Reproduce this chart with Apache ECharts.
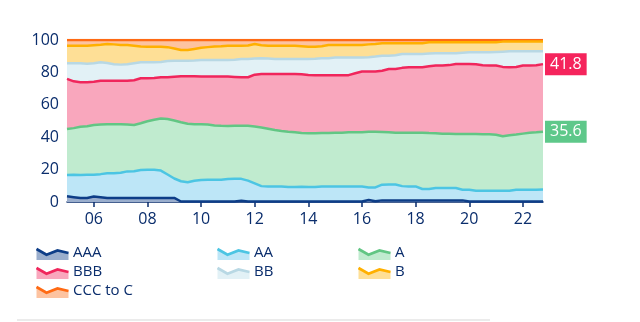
<!DOCTYPE html>
<html>
<head>
<meta charset="utf-8">
<script src="https://cdn.jsdelivr.net/npm/echarts@6/dist/echarts.min.js"></script>
<style>
html,body{margin:0;padding:0;background:#fff;}
#chart{width:640px;height:322px;}
</style>
</head>
<body>
<div id="chart"></div>
<script>
// Quarterly observation dates
const categories = [
  '2005-01','2005-04','2005-07','2005-10','2006-01','2006-04','2006-07','2006-10',
  '2007-01','2007-04','2007-07','2007-10','2008-01','2008-04','2008-07','2008-10',
  '2009-01','2009-04','2009-07','2009-10','2010-01','2010-04','2010-07','2010-10',
  '2011-01','2011-04','2011-07','2011-10','2012-01','2012-04','2012-07','2012-10',
  '2013-01','2013-04','2013-07','2013-10','2014-01','2014-04','2014-07','2014-10',
  '2015-01','2015-04','2015-07','2015-10','2016-01','2016-04','2016-07','2016-10',
  '2017-01','2017-04','2017-07','2017-10','2018-01','2018-04','2018-07','2018-10',
  '2019-01','2019-04','2019-07','2019-10','2020-01','2020-04','2020-07','2020-10',
  '2021-01','2021-04','2021-07','2021-10','2022-01','2022-04','2022-07','2022-10'
];
const tickLabels = ['06','08','10','12','14','16','18','20','22'];

const seriesNames = ['AAA','AA','A','BBB','BB','B','CCC to C'];

const aaa = [3.5,3.0,2.5,2.5, 3.4,3.0,2.5,2.5, 2.5,2.5,2.5,2.5, 2.5,2.5,2.5,2.5,
  2.5,0.3,0.3,0.3, 0.3,0.3,0.3,0.3, 0.3,0.3,0.7,0.3, 0.3,0.3,0.3,0.3,
  0.3,0.3,0.3,0.3, 0.3,0.3,0.3,0.3, 0.3,0.3,0.3,0.3, 0.3,1.2,0.4,1.0,
  1.0,1.0,1.0,1.0, 1.0,1.0,1.0,1.0, 1.0,1.0,1.0,1.0, 0.3,0.3,0.3,0.3,
  0.3,0.3,0.3,0.3, 0.3,0.3,0.3,0.3];
const aa = [13.1,13.8,14.2,14.3, 13.4,14.2,15.3,15.3, 15.5,16.4,16.5,17.3, 17.4,17.4,16.9,14.5,
  12.0,12.5,11.9,12.8, 13.3,13.4,13.5,13.4, 13.9,14.1,13.6,12.9, 11.2,9.5,9.3,9.3,
  9.2,8.9,9.0,9.1, 9.0,8.9,9.3,9.3, 9.3,9.3,9.3,9.3, 9.2,7.8,8.6,9.7,
  9.8,9.8,8.8,8.6, 8.6,7.0,7.0,7.6, 7.6,7.6,7.6,6.6, 7.3,6.7,6.7,6.7,
  6.7,6.7,6.7,7.3, 7.3,7.3,7.3,7.4];
const a = [28.4,28.8,29.8,30.0, 30.7,30.6,30.2,30.2, 30.0,28.9,28.5,28.8, 29.9,30.9,32.1,34.2,
  35.8,36.4,36.1,34.9, 34.4,34.1,33.4,33.3, 32.7,32.6,32.7,33.8, 35.1,36.2,35.6,34.8,
  34.3,34.1,33.7,33.2, 33.1,33.3,33.0,33.0, 33.1,33.1,33.4,33.5, 33.6,34.3,34.3,32.5,
  32.3,32.0,33.0,33.2, 33.2,34.8,34.6,33.9, 33.6,33.5,33.4,34.4, 34.3,34.9,34.8,34.8,
  34.5,33.6,34.2,34.0, 34.6,35.2,35.4,35.6];
const bbb = [31.0,28.9,27.4,27.1, 26.7,27.1,26.9,26.9, 26.9,27.1,27.7,27.8, 26.6,25.7,25.5,25.8,
  27.0,28.4,29.3,29.6, 29.4,29.6,30.2,30.4, 30.5,30.2,30.0,30.0, 32.0,33.0,33.8,34.6,
  35.2,35.7,36.0,36.2, 36.0,35.7,35.6,35.6, 35.5,35.5,35.3,36.4, 37.4,37.2,37.2,37.8,
  39.0,39.3,40.0,40.4, 40.4,40.4,41.2,41.7, 42.0,42.4,43.2,43.2, 43.3,43.1,42.6,42.4,
  42.7,42.8,42.0,41.7, 42.0,41.4,41.4,41.8];
const bb = [9.6,11.1,11.7,11.4, 11.4,11.3,10.9,10.1, 9.9,10.1,10.4,9.8, 9.8,9.7,9.4,10.0,
  9.9,9.6,9.6,9.7, 10.2,10.2,10.2,10.2, 10.2,10.6,11.2,11.2, 10.0,9.8,9.6,9.2,
  9.2,9.2,9.2,9.5, 9.9,10.3,10.6,10.6, 11.0,11.0,10.9,9.7, 8.7,8.9,9.3,9.3,
  8.2,8.5,8.6,8.2, 8.2,8.2,7.8,7.6, 7.6,7.3,6.6,7.0, 7.2,7.4,8.0,8.2,
  8.4,9.4,9.8,9.7, 8.8,8.8,8.6,7.9];
const b = [10.9,10.9,10.9,11.2, 11.2,10.9,11.7,12.3, 12.1,11.9,10.9,9.8, 9.6,9.6,9.4,8.6,
  7.6,6.6,6.6,7.2, 7.6,8.0,8.4,8.6, 8.9,8.7,8.3,8.4, 8.9,8.0,7.9,8.3,
  8.3,8.3,8.3,7.9, 7.6,7.4,7.4,8.1, 7.7,7.7,7.7,7.7, 7.7,7.9,7.8,7.7,
  7.7,7.4,6.6,6.6, 6.6,6.6,7.0,6.8, 6.8,6.8,6.8,6.4, 6.2,6.2,6.2,6.2,
  6.0,6.2,6.0,6.0, 6.0,6.0,6.0,6.0];
const ccc = [3.5,3.5,3.5,3.5, 3.2,2.9,2.5,2.7, 3.1,3.1,3.5,4.0, 4.2,4.2,4.2,4.4,
  5.2,6.2,6.2,5.5, 4.8,4.4,4.0,3.8, 3.5,3.5,3.5,3.4, 2.5,3.2,3.5,3.5,
  3.5,3.5,3.5,3.8, 4.1,4.1,3.8,3.1, 3.1,3.1,3.1,3.1, 3.1,2.7,2.4,2.0,
  2.0,2.0,2.0,2.0, 2.0,2.0,1.4,1.4, 1.4,1.4,1.4,1.4, 1.4,1.4,1.4,1.4,
  1.4,1.0,1.0,1.0, 1.0,1.0,1.0,1.0];

const seriesData = [aaa, aa, a, bbb, bb, b, ccc];
const lineColors = ['#0d3d87','#4cc5e3','#62c684','#f0265c','#b8d8e4','#ffb000','#ff6a13'];
const areaColors = ['#9aaecd','#bde6f7','#c0ebcf','#f9a7bd','#e2f1f6','#fedf96','#fdc3a0'];
const labelColors = { 'BBB': '#f5245c', 'A': '#5ec88a' };

const navy = '#0a2d6c';
const font = 'Open Sans';

const isTick = (idx, val) => val.endsWith('-01') && tickLabels.includes(val.slice(2, 4));

const series = seriesNames.map((name, i) => ({
  name: name,
  type: 'line',
  stack: 'total',
  data: seriesData[i],
  showSymbol: false,
  symbol: 'none',
  z: 20 - i,
  lineStyle: { color: lineColors[i], width: 2.5 },
  itemStyle: { color: lineColors[i] },
  areaStyle: { color: areaColors[i], opacity: 1 },
  emphasis: { disabled: true },
  endLabel: labelColors[name] ? {
    show: true,
    formatter: p => Number(p.value).toFixed(1),
    color: '#fff',
    backgroundColor: labelColors[name],
    padding: [3, 5, 3, 5],
    fontSize: 16,
    lineHeight: 16,
    fontFamily: font,
    distance: 2
  } : { show: false }
}));

// legend layout: three columns
const legendCols = [
  { left: 36, items: ['AAA', 'BBB', 'CCC to C'] },
  { left: 217, items: ['AA', 'BB'] },
  { left: 358, items: ['A', 'B'] }
];
const legendTop = 245, rowPitch = 19;

const legends = legendCols.map(col => ({
  left: col.left,
  top: legendTop,
  padding: 0,
  orient: 'vertical',
  itemWidth: 32,
  itemHeight: 16,
  itemGap: 3,
  icon: 'rect',
  selectedMode: false,
  itemStyle: { color: 'rgba(0,0,0,0)', opacity: 0, borderWidth: 0 },
  lineStyle: { opacity: 0 },
  textStyle: { color: navy, fontSize: 15, lineHeight: 16, fontFamily: font },
  data: col.items
}));

const graphics = [];
legendCols.forEach(col => {
  col.items.forEach((name, r) => {
    const k = seriesNames.indexOf(name);
    const x0 = col.left + 0.5;
    const cy = legendTop + 8 + r * rowPitch;
    const pts = [[x0, cy - 4], [x0 + 10, cy + 1.7], [x0 + 21, cy - 2.6], [x0 + 32, cy]];
    graphics.push({
      type: 'polygon', z: 100, silent: true,
      shape: { points: pts.concat([[x0 + 32, cy + 7], [x0, cy + 7]]) },
      style: { fill: areaColors[k] }
    });
    graphics.push({
      type: 'polyline', z: 101, silent: true,
      shape: { points: pts },
      style: { stroke: lineColors[k], lineWidth: 2.7, fill: null }
    });
  });
});
graphics.push({
  type: 'line', z: 100, silent: true,
  shape: { x1: 17, y1: 320, x2: 490, y2: 320 },
  style: { stroke: '#e4e4e4', lineWidth: 1.5 }
});

const option = {
  animation: false,
  backgroundColor: '#fff',
  textStyle: { fontFamily: font },
  grid: { left: 67, right: 97, top: 40, bottom: 120 },
  xAxis: {
    type: 'category',
    data: categories,
    boundaryGap: false,
    axisLine: { lineStyle: { color: navy, width: 1.5 } },
    axisTick: { show: true, interval: isTick, length: 5, lineStyle: { color: navy, width: 1.5 } },
    axisLabel: { interval: isTick, formatter: v => v.slice(2, 4), color: navy, fontSize: 16, margin: 9, fontFamily: font },
    splitLine: { show: false }
  },
  yAxis: {
    type: 'value', min: 0, max: 100, interval: 20,
    axisLine: { show: false }, axisTick: { show: false }, splitLine: { show: false },
    axisLabel: { color: navy, fontSize: 16, margin: 8, fontFamily: font }
  },
  legend: legends,
  graphic: graphics,
  series: series
};

const chart = echarts.init(document.getElementById('chart'), null, { renderer: 'canvas' });
chart.setOption(option);
</script>
</body>
</html>
